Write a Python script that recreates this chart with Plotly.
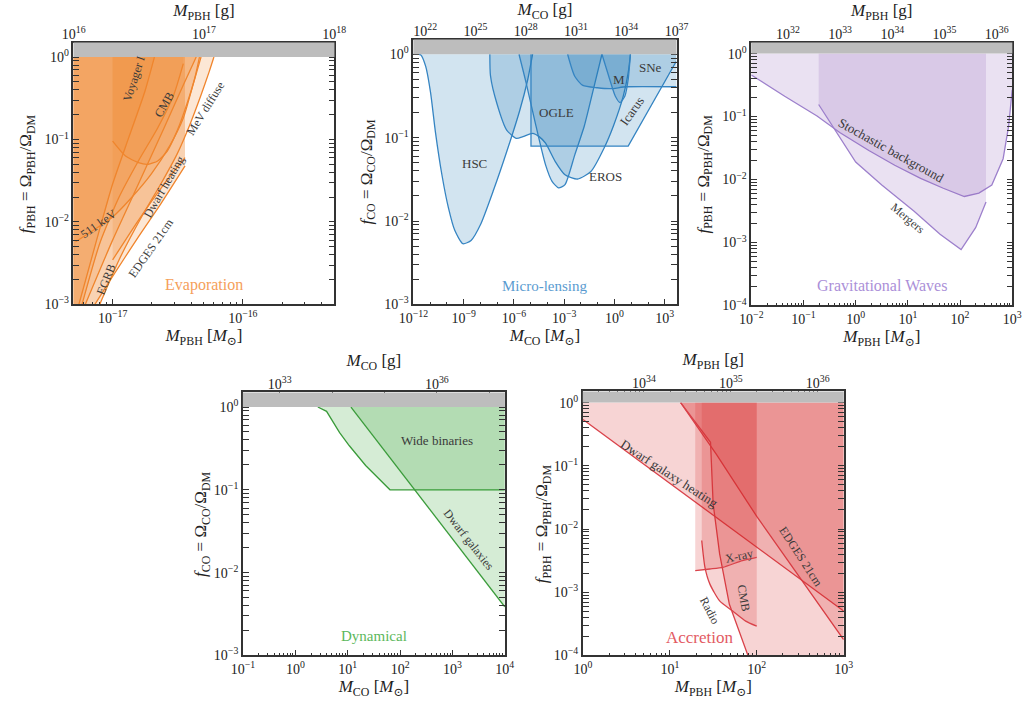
import numpy as np
import plotly.graph_objects as go

LOG_MSUN_G = np.log10(1.989e33)

# ---------------- data: log10(M / Msun), log10(f) ----------------
# Evaporation
EVAP_511_M = [-17.284, -17.148, -17.0, -16.852, -16.704, -16.556, -16.457, -16.383, -16.321]
EVAP_511_F = [-2.24, -2.10, -1.94, -1.70, -1.42, -1.06, -0.74, -0.34, 0.0]
EVAP_EGRB_M = [-17.210, -17.0, -16.802, -16.605, -16.457, -16.358]
EVAP_EGRB_F = [-3.0, -2.22, -1.54, -0.86, -0.34, 0.0]
EVAP_VOY_M = [-17.259, -17.123, -17.0, -16.877, -16.753, -16.679]
EVAP_VOY_F = [-3.0, -2.22, -1.54, -0.98, -0.42, 0.0]
EVAP_CMB_M = [-17.235, -17.099, -16.951, -16.802, -16.654, -16.531, -16.457]
EVAP_CMB_F = [-3.0, -2.26, -1.70, -1.26, -0.86, -0.46, -0.08]
EVAP_U_M = [-17.0, -16.901, -16.802, -16.728, -16.654, -16.580, -16.506, -16.432, -16.370, -16.333]
EVAP_U_F = [-1.02, -1.20, -1.28, -1.30, -1.26, -1.14, -0.90, -0.58, -0.26, 0.0]
EVAP_DWARF_M = [-17.0, -16.802, -16.605, -16.444]
EVAP_DWARF_F = [-2.46, -1.98, -1.54, -1.22]
EVAP_EDGES_M = [-17.136, -17.0, -16.802, -16.630, -16.444]
EVAP_EDGES_F = [-3.0, -2.66, -2.18, -1.78, -1.32]
EVAP_MEV_M = [-17.099, -16.951, -16.778, -16.630, -16.506, -16.407, -16.321, -16.259, -16.222]
EVAP_MEV_F = [-3.0, -2.46, -1.94, -1.54, -1.18, -0.82, -0.46, -0.18, 0.0]

# Micro-lensing
ML_HSC_M = [-12.0, -11.555, -11.265, -10.975, -10.685, -10.299, -9.912, -9.526, -9.042,
            -8.559, -7.979, -7.206, -6.433, -5.659, -5.176, -4.886]
ML_HSC_F = [0, -0.008, -0.146, -0.461, -0.933, -1.445, -1.839, -2.114, -2.272,
            -2.232, -2.035, -1.622, -1.169, -0.677, -0.303, 0]
ML_EROS_M = [-7.438, -7.399, -7.013, -6.433, -5.853, -5.466, -4.886, -4.499, -4.113,
             -3.533, -2.953, -2.199, -1.407, -0.633, -0.053, 0.527, 0.817, 0.952]
ML_EROS_F = [0, -0.260, -0.594, -0.909, -1.008, -0.988, -0.949, -0.988, -1.067,
             -1.287, -1.445, -1.496, -1.406, -1.130, -0.854, -0.500, -0.224, 0]
ML_OGLE_M = [-5.698, -5.273, -4.693, -4.113, -3.726, -3.340, -2.953, -2.373, -1.793, -1.213, -0.749]
ML_OGLE_F = [0, -0.343, -0.854, -1.327, -1.524, -1.602, -1.563, -1.209, -0.854, -0.382, 0]
ML_ICARUS_M = [-4.983, -4.983, 0.817, 3.68]
ML_ICARUS_F = [0, -1.102, -1.102, -0.087]
ML_SNE_M = [-2.798, -2.373, -1.890, -1.020, -0.246, 0.720, 3.71]
ML_SNE_F = [0, -0.264, -0.374, -0.402, -0.413, -0.390, -0.390]
ML_M_M = [-0.749, -0.343, 0.043, 0.333, 0.623, 0.817, 0.952]
ML_M_F = [0, -0.264, -0.500, -0.579, -0.500, -0.303, 0]

# Gravitational waves
GW_SGWB_M = [-2.0, -1.361, -0.741, -0.306, 0.252, 0.748, 1.244, 1.679, 2.082, 2.361, 2.609, 2.826, 2.932, 3.0]
GW_SGWB_F = [-0.339, -0.678, -0.991, -1.252, -1.538, -1.773, -1.982, -2.138, -2.269, -2.216, -2.086, -1.669, -1.147, -0.574]
GW_MERG_M = [-0.710, -0.368, 0.0, 0.5, 1.120, 1.617, 2.020, 2.299, 2.498]
GW_MERG_F = [-0.808, -1.252, -1.721, -2.086, -2.503, -2.868, -3.113, -2.764, -2.357]

# Dynamical
DYN_WB_M = [0.429, 0.596, 0.845, 1.031, 1.342, 1.807, 4.0]
DYN_WB_F = [0, -0.052, -0.310, -0.468, -0.706, -1.0, -1.0]
DYN_DG_M = [1.062, 4.0]
DYN_DG_F = [0, -2.413]

# Accretion
ACC_DWARF_M = [0.0, 3.0]
ACC_DWARF_F = [-0.266, -3.298]
ACC_EDGES_M = [1.124, 1.536, 2.0, 2.547, 3.0]
ACC_EDGES_F = [0, -0.82, -1.80, -2.872, -3.75]
ACC_CMB_M = [1.124, 1.468, 1.498, 1.573, 1.685, 1.910]
ACC_CMB_F = [0, -0.628, -1.596, -2.394, -3.191, -4.043]
ACC_RADIO_M = [1.367, 1.404, 1.461, 1.573, 1.723, 1.873, 2.0]
ACC_RADIO_F = [-2.181, -2.606, -2.872, -3.138, -3.298, -3.457, -3.537]
ACC_XRAY_M = [1.292, 1.461, 1.610, 1.835, 2.0]
ACC_XRAY_F = [-2.660, -2.633, -2.606, -2.5, -2.447]

# ---------------- layout geometry ----------------
YTOP = 0.176
PANELS = [
    dict(dom_x=[0.0580, 0.3169], dom_y=[0.5613, 0.9387], xr=[16 - LOG_MSUN_G - 0.002, 18 - LOG_MSUN_G + 0.002],
         yr=[-3, YTOP], xt=[-17, -16], yt=[-3, -2, -1, 0], gt=[16, 17, 18], gminor="sub", ytx=12,
         name="PBH", color=(242, 133, 45), line="#f0852d"),
    dict(dom_x=[0.3952, 0.6563], dom_y=[0.5613, 0.9430], xr=[-12.002, 37 - LOG_MSUN_G + 0.002], yr=[-3, YTOP],
         xt=[-12, -9, -6, -3, 0, 3], yt=[-3, -2, -1, 0], gt=[22, 25, 28, 31, 34, 37], ytx=362,
         gminor="dec", name="CO", color=(31, 119, 180), line="#3584c2"),
    dict(dom_x=[0.7304, 0.9894], dom_y=[0.5598, 0.9387], xr=[-2.002, 3.002], yr=[-4, YTOP],
         xt=[-2, -1, 0, 1, 2, 3], yt=[-4, -3, -2, -1, 0], gt=[32, 33, 34, 35, 36], ytx=708,
         gminor="sub", name="PBH", color=(148, 103, 189), line="#9d80cc"),
    dict(dom_x=[0.2261, 0.4860], dom_y=[0.0556, 0.4345], xr=[-1.002, 4.002], yr=[-3, YTOP],
         xt=[-1, 0, 1, 2, 3, 4], yt=[-3, -2, -1, 0], gt=[33, 36], ytx=192,
         gminor="dec", name="CO", color=(44, 160, 44), line="#3a9b3a"),
    dict(dom_x=[0.5633, 0.8222], dom_y=[0.0556, 0.4359], xr=[-0.002, 3.002], yr=[-4, YTOP],
         xt=[0, 1, 2, 3], yt=[-4, -3, -2, -1, 0], gt=[34, 35, 36], ytx=543,
         gminor="sub", name="PBH", color=(214, 39, 40), line="#d9424a"),
]

FONT = "Liberation Serif, DejaVu Serif, serif"
AXC = "#333333"
TXT = "#3a3a3a"
W, H = 1035, 702


def sup(e):
    s = str(e).replace("-", "\u2212")
    return f"10<sup>{s}</sup>"


def minor_vals(lo, hi, kind, major):
    vals = []
    for k in range(int(np.floor(lo)) - 1, int(np.ceil(hi)) + 1):
        if kind == "sub":
            for m in range(2, 10):
                v = k + np.log10(m)
                if lo <= v <= hi:
                    vals.append(10 ** v)
        else:
            if lo <= k <= hi and k not in major:
                vals.append(10.0 ** k)
    return vals


def poly(lx, ly, mode, xr, yr):
    xs, ys = list(lx), list(ly)
    if mode == "closed":
        xs += [lx[-1], lx[0]]
        ys += [0.0, 0.0]
    elif mode == "left":
        xs += [lx[-1], xr[0] - 0.01, xr[0] - 0.01]
        ys += [0.0, 0.0, yr[0] - 0.05]
    elif mode == "right":
        xs += [xr[1] + 0.01, xr[1] + 0.01]
        ys += [ly[-1], 0.0]
    return 10 ** np.array(xs), 10 ** np.array(ys)


fig = go.Figure()
layout = dict(width=W, height=H, margin=dict(l=0, r=0, t=0, b=0), autosize=False,
              paper_bgcolor="white", plot_bgcolor="white", showlegend=False,
              font=dict(family=FONT, color="#222"), shapes=[], annotations=[])


def aid(p, n):
    return p if n == 1 else f"{p}{n}"


def akey(p, n):
    return f"{p}axis" if n == 1 else f"{p}axis{n}"


for i, P in enumerate(PANELS, start=1):
    xa, ya, ta = aid("x", i), aid("y", i), aid("x", i + 5)
    tick = dict(ticks="inside", ticklen=6, tickwidth=1.1, tickcolor=AXC,
                tickfont=dict(size=14, family=FONT, color="#222"))
    minor_kw = dict(ticks="inside", ticklen=3, tickwidth=0.9, tickcolor=AXC, showgrid=False)
    q = P["name"]
    layout[akey("x", i)] = dict(
        domain=P["dom_x"], anchor=ya, type="log", range=P["xr"], showgrid=False, zeroline=False,
        showline=True, linecolor=AXC, linewidth=1.6, mirror=True,
        tickmode="array", tickvals=[10.0 ** v for v in P["xt"]], ticktext=[sup(v) for v in P["xt"]],
        minor=dict(tickmode="array", tickvals=minor_vals(P["xr"][0], P["xr"][1],
                   "dec" if i == 2 else "sub", P["xt"]), **minor_kw),
        title=dict(text=f"<i>M</i><sub>{q}</sub> [<i>M</i><sub>\u2299</sub>]",
                   font=dict(size=17, family=FONT, color="#222"), standoff=2),
        **tick)
    layout[akey("y", i)] = dict(
        domain=P["dom_y"], anchor=xa, type="log", range=P["yr"], showgrid=False, zeroline=False,
        showline=True, linecolor=AXC, linewidth=1.6, mirror="allticks",
        tickmode="array", tickvals=[10.0 ** v for v in P["yt"]], ticktext=[sup(v) for v in P["yt"]],
        minor=dict(tickmode="array", tickvals=minor_vals(P["yr"][0], 0, "sub", P["yt"]), **minor_kw),
        **tick)
    layout["annotations"].append(dict(
        text=f"<i>f</i><sub>{q}</sub> = \u03a9<sub>{q}</sub>/\u03a9<sub>DM</sub>",
        xref="paper", yref="paper", x=P["ytx"] / W, y=(P["dom_y"][0] + P["dom_y"][1]) / 2,
        xanchor="center", yanchor="middle", textangle=-90, showarrow=False,
        font=dict(size=17, family=FONT, color="#222")))
    gr = [P["xr"][0] + LOG_MSUN_G, P["xr"][1] + LOG_MSUN_G]
    layout[akey("x", i + 5)] = dict(
        overlaying=xa, anchor=ya, side="top", type="log", range=gr, showgrid=False, zeroline=False,
        showline=False, tickmode="array", tickvals=[10.0 ** v for v in P["gt"]],
        ticktext=[sup(v) for v in P["gt"]],
        minor=dict(tickmode="array", tickvals=minor_vals(gr[0], gr[1], P["gminor"], P["gt"]), **minor_kw),
        title=dict(text=f"<i>M</i><sub>{q}</sub> [g]", font=dict(size=17, family=FONT, color="#222"),
                   standoff=2),
        **tick)
    fig.add_trace(go.Scatter(x=[10 ** gr[0], 10 ** gr[1]], y=[1e-3, 1e-3], xaxis=ta, yaxis=ya,
                             mode="none", hoverinfo="skip"))
    frac = (0 - P["yr"][0]) / (P["yr"][1] - P["yr"][0])
    layout["shapes"].append(dict(type="rect", xref=f"{xa} domain", yref=f"{ya} domain",
                                 x0=0, x1=1, y0=frac, y1=1, fillcolor="#bdbdbd",
                                 line=dict(width=0), layer="above"))


def add_constraint(i, lx, ly, mode, draw_line=True, smooth=True):
    P = PANELS[i - 1]
    r, g, b = P["color"]
    px, py = poly(lx, ly, mode, P["xr"], P["yr"])
    xa, ya = aid("x", i), aid("y", i)
    fig.add_trace(go.Scatter(x=px, y=py, xaxis=xa, yaxis=ya, mode="lines", fill="toself",
                             fillcolor=f"rgba({r},{g},{b},0.2)", line=dict(width=0, color="rgba(0,0,0,0)"),
                             hoverinfo="skip"))
    if draw_line:
        fig.add_trace(go.Scatter(x=10 ** np.array(lx), y=10 ** np.array(ly), xaxis=xa, yaxis=ya,
                                 mode="lines", hoverinfo="skip",
                                 line=dict(color=P["line"], width=1.3,
                                           shape="spline" if smooth else "linear", smoothing=0.6)))


# Evaporation
add_constraint(1, EVAP_511_M, EVAP_511_F, "left")
add_constraint(1, EVAP_EGRB_M, EVAP_EGRB_F, "left")
add_constraint(1, EVAP_VOY_M, EVAP_VOY_F, "left")
add_constraint(1, EVAP_CMB_M, EVAP_CMB_F, "left")
add_constraint(1, EVAP_U_M, EVAP_U_F, "closed")
add_constraint(1, EVAP_DWARF_M, EVAP_DWARF_F, "closed")
add_constraint(1, EVAP_EDGES_M, EVAP_EDGES_F, "left")
add_constraint(1, EVAP_MEV_M, EVAP_MEV_F, "left")
# Micro-lensing
add_constraint(2, ML_HSC_M, ML_HSC_F, "closed")
add_constraint(2, ML_EROS_M, ML_EROS_F, "closed")
add_constraint(2, ML_OGLE_M, ML_OGLE_F, "closed")
add_constraint(2, ML_ICARUS_M, ML_ICARUS_F, "closed", smooth=False)
add_constraint(2, ML_SNE_M, ML_SNE_F, "closed")
add_constraint(2, ML_M_M, ML_M_F, "closed")
# Gravitational waves
add_constraint(3, GW_SGWB_M, GW_SGWB_F, "closed", smooth=False)
add_constraint(3, GW_MERG_M, GW_MERG_F, "closed", smooth=False)
# Dynamical
add_constraint(4, DYN_WB_M, DYN_WB_F, "closed", smooth=False)
add_constraint(4, DYN_DG_M, DYN_DG_F, "closed", smooth=False)
# Accretion
add_constraint(5, ACC_DWARF_M, ACC_DWARF_F, "closed", smooth=False)
add_constraint(5, ACC_EDGES_M, ACC_EDGES_F, "closed", smooth=False)
add_constraint(5, ACC_CMB_M, ACC_CMB_F, "right", smooth=False)
add_constraint(5, ACC_RADIO_M, ACC_RADIO_F, "closed")
add_constraint(5, ACC_XRAY_M, ACC_XRAY_F, "closed")


def label(i, text, x, y, angle=0, size=13, color=TXT):
    layout["annotations"].append(dict(text=text, x=x, y=y, xref=aid("x", i), yref=aid("y", i),
                                      showarrow=False, textangle=angle,
                                      font=dict(size=size, family=FONT, color=color)))


label(1, "Voyager I", -16.84, -0.26, -72, 12)
label(1, "CMB", -16.605, -0.58, -60, 12)
label(1, "MeV diffuse", -16.284, -0.62, -58, 12)
label(1, "511 keV", -17.111, -2.02, -35, 12)
label(1, "Dwarf heating", -16.605, -1.58, -60, 12)
label(1, "EDGES 21cm", -16.704, -2.32, -55, 12)
label(1, "EGRB", -17.054, -2.70, -68, 12)
label(1, "Evaporation", -16.296, -2.76, 0, 16, "#f5a05a")

label(2, "HSC", -8.366, -1.307)
label(2, "OGLE", -3.436, -0.697)
label(2, "EROS", -0.537, -1.465)
label(2, "M", 0.295, -0.303)
label(2, "SNe", 2.17, -0.165)
label(2, "Icarus", 1.068, -0.677, -55)
label(2, "Micro-lensing", -4.15, -2.776, 0, 15, "#5a9bd0")

label(3, "Stochastic background", 0.686, -1.538, 29)
label(3, "Mergers", 0.996, -2.608, 40, 12)
label(3, "Gravitational Waves", 0.5, -3.677, 0, 16, "#ab8fd8")

label(4, "Wide binaries", 2.708, -0.409)
label(4, "Dwarf galaxies", 3.298, -1.6, 52, 12)
label(4, "Dynamical", 1.497, -2.77, 0, 15, "#5cb85c")

label(5, "Dwarf galaxy heating", 0.993, -1.117, 33)
label(5, "X-ray", 1.798, -2.42, -12, 12)
label(5, "CMB", 1.854, -3.085, 80, 12)
label(5, "Radio", 1.461, -3.298, 62, 12)
label(5, "EDGES 21cm", 2.509, -2.447, 57, 12)
label(5, "Accretion", 1.348, -3.723, 0, 17, "#e35a63")

fig.update_layout(**layout)
fig.write_html("out.html")
